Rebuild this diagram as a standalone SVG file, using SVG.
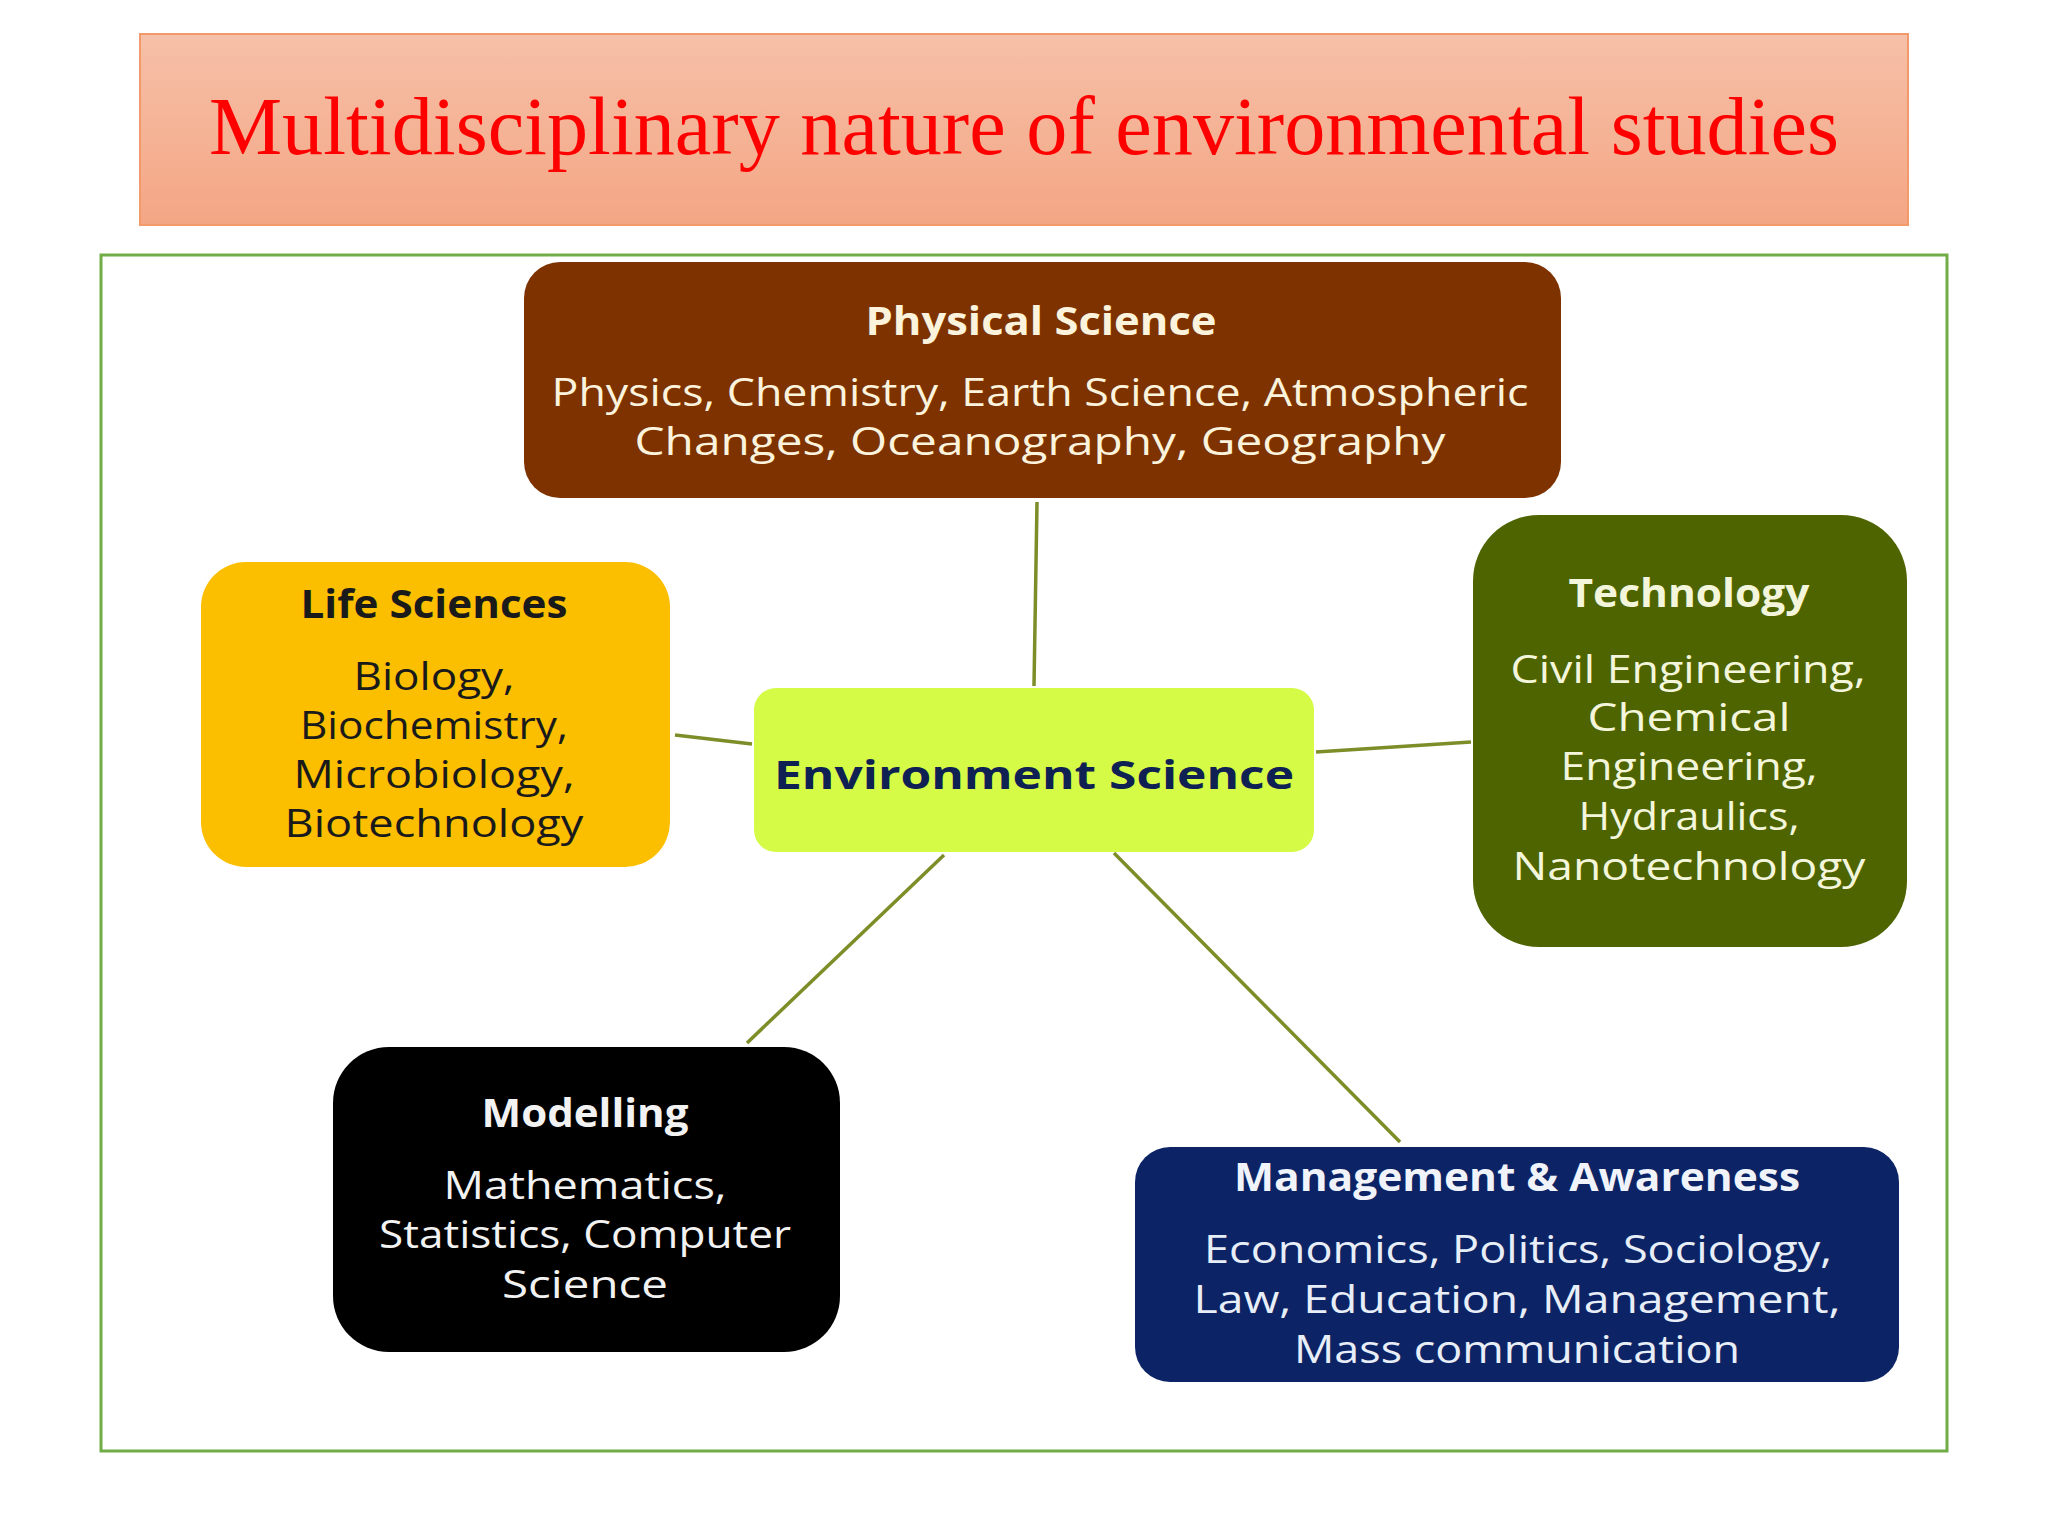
<svg xmlns="http://www.w3.org/2000/svg" width="2048" height="1536" viewBox="0 0 2048 1536">
<defs>
<linearGradient id="tg" x1="0" y1="0" x2="0" y2="1">
<stop offset="0" stop-color="#f6c0a8"/>
<stop offset="1" stop-color="#f4a684"/>
</linearGradient>
<style>
.h{font-family:"Open Sans","Liberation Sans",sans-serif;font-weight:bold;font-size:40px;text-anchor:middle}
.b{font-family:"Open Sans","Liberation Sans",sans-serif;font-size:38px;text-anchor:middle}
.conn line{stroke:#7d8d28;stroke-width:3.5;fill:none}
</style>
</defs>
<rect width="2048" height="1536" fill="#ffffff"/>
<g id="title">
<rect x="140" y="34" width="1768" height="191" fill="url(#tg)" stroke="#f29a6c" stroke-width="2"/>
<text x="1024" y="154" font-family="'Liberation Serif','Times New Roman',serif" font-size="83" fill="#ff0000" text-anchor="middle" textLength="1630" lengthAdjust="spacingAndGlyphs">Multidisciplinary nature of environmental studies</text>
</g>
<rect id="frame" x="101" y="255" width="1846" height="1196" fill="none" stroke="#70ad47" stroke-width="3"/>
<g class="conn" id="connectors">
<line x1="1037" y1="502" x2="1034" y2="686"/>
<line x1="675" y1="735" x2="752" y2="744"/>
<line x1="1316" y1="752" x2="1471" y2="742"/>
<line x1="944" y1="855" x2="747" y2="1043"/>
<line x1="1114" y1="853" x2="1400" y2="1142"/>
</g>
<g id="physical-science">
<rect x="524" y="262" width="1037" height="236" rx="36" fill="#7d3200"/>
<text class="h" x="1041" y="335" fill="#fbf3dc" textLength="351" lengthAdjust="spacingAndGlyphs">Physical Science</text>
<text class="b" x="1040" y="406" fill="#fbf3dc" textLength="977" lengthAdjust="spacingAndGlyphs">Physics, Chemistry, Earth Science, Atmospheric</text>
<text class="b" x="1040" y="455" fill="#fbf3dc" textLength="811" lengthAdjust="spacingAndGlyphs">Changes, Oceanography, Geography</text>
</g>
<g id="life-sciences">
<rect x="201" y="562" width="469" height="305" rx="45" fill="#fcbf00"/>
<text class="h" x="434" y="618" fill="#1a1a1a" textLength="267" lengthAdjust="spacingAndGlyphs">Life Sciences</text>
<text class="b" x="434" y="690" fill="#1a1a1a" textLength="161" lengthAdjust="spacingAndGlyphs">Biology,</text>
<text class="b" x="434" y="739" fill="#1a1a1a" textLength="268" lengthAdjust="spacingAndGlyphs">Biochemistry,</text>
<text class="b" x="434" y="788" fill="#1a1a1a" textLength="281" lengthAdjust="spacingAndGlyphs">Microbiology,</text>
<text class="b" x="434" y="837" fill="#1a1a1a" textLength="299" lengthAdjust="spacingAndGlyphs">Biotechnology</text>
</g>
<g id="environment-science">
<rect x="754" y="688" width="560" height="164" rx="22" fill="#d5fb46"/>
<text class="h" x="1034" y="789" font-size="58" fill="#0e2152" textLength="520" lengthAdjust="spacingAndGlyphs">Environment Science</text>
</g>
<g id="technology">
<rect x="1473" y="515" width="434" height="432" rx="66" fill="#4e6400"/>
<text class="h" x="1689" y="607" fill="#f4f6dc" textLength="241" lengthAdjust="spacingAndGlyphs">Technology</text>
<text class="b" x="1688" y="683" fill="#f4f6dc" textLength="355" lengthAdjust="spacingAndGlyphs">Civil Engineering,</text>
<text class="b" x="1689" y="731" fill="#f4f6dc" textLength="203" lengthAdjust="spacingAndGlyphs">Chemical</text>
<text class="b" x="1689" y="780" fill="#f4f6dc" textLength="257" lengthAdjust="spacingAndGlyphs">Engineering,</text>
<text class="b" x="1689" y="830" fill="#f4f6dc" textLength="221" lengthAdjust="spacingAndGlyphs">Hydraulics,</text>
<text class="b" x="1689" y="880" fill="#f4f6dc" textLength="353" lengthAdjust="spacingAndGlyphs">Nanotechnology</text>
</g>
<g id="modelling">
<rect x="333" y="1047" width="507" height="305" rx="56" fill="#000000"/>
<text class="h" x="585" y="1127" fill="#f2f2f2" textLength="207" lengthAdjust="spacingAndGlyphs">Modelling</text>
<text class="b" x="585" y="1199" fill="#f2f2f2" textLength="283" lengthAdjust="spacingAndGlyphs">Mathematics,</text>
<text class="b" x="585" y="1248" fill="#f2f2f2" textLength="412" lengthAdjust="spacingAndGlyphs">Statistics, Computer</text>
<text class="b" x="585" y="1298" fill="#f2f2f2" textLength="166" lengthAdjust="spacingAndGlyphs">Science</text>
</g>
<g id="management-awareness">
<rect x="1135" y="1147" width="764" height="235" rx="35" fill="#0c2465"/>
<text class="h" x="1517" y="1191" fill="#f0f3fa" textLength="566" lengthAdjust="spacingAndGlyphs">Management &amp; Awareness</text>
<text class="b" x="1518" y="1263" fill="#e8eef8" textLength="628" lengthAdjust="spacingAndGlyphs">Economics, Politics, Sociology,</text>
<text class="b" x="1517" y="1313" fill="#e8eef8" textLength="647" lengthAdjust="spacingAndGlyphs">Law, Education, Management,</text>
<text class="b" x="1517" y="1363" fill="#e8eef8" textLength="446" lengthAdjust="spacingAndGlyphs">Mass communication</text>
</g>
</svg>
